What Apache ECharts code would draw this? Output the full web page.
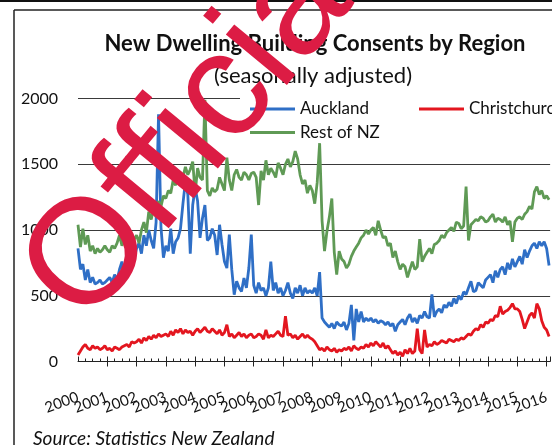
<!DOCTYPE html>
<html>
<head>
<meta charset="utf-8">
<script src="https://cdn.jsdelivr.net/npm/echarts@6/dist/echarts.min.js"></script>
<style>
  html, body { margin: 0; padding: 0; background: #fff; }
  #chart { width: 552px; height: 445px; }
</style>
</head>
<body>
<div id="chart"></div>
<script>
// Monthly new dwelling consents, seasonally adjusted, January 2000 onwards
const startYear = 2000;
const yTicks = [0, 500, 1000, 1500, 2000];

const auckland = [
  860, 700, 740, 620, 700, 600, 640, 590, 600, 620, 590, 600,
  620, 640, 600, 660, 620, 700, 760, 640, 680, 800, 720, 780,
  860, 900, 820, 960, 880, 1000, 920, 860, 1060, 1880, 1020, 790,
  880, 840, 1010, 820, 910, 940, 1010, 1200, 1370, 1270, 820, 1190,
  1320, 1220, 940, 1090, 1190, 920, 940, 1010, 960, 810, 1040, 890,
  760, 710, 965, 700, 508, 610, 560, 533, 635, 560, 711, 965,
  580, 520, 600, 540, 560, 500, 560, 760, 540, 600, 520, 560,
  500, 540, 600, 520, 480, 560, 520, 580, 500, 560, 520, 540,
  520, 560, 500, 680, 330, 300, 280, 260, 290, 250, 300, 280,
  270, 300, 240, 290, 430, 160, 400, 300, 380, 300, 330, 310,
  330, 300, 320, 290, 310, 300, 280, 300, 270, 290, 230, 280,
  300, 320, 280, 330, 360, 300, 330, 290, 350, 330, 380, 340,
  330, 510, 340, 380, 400, 370, 430, 410, 450, 420, 480, 440,
  500, 470, 530, 510, 560, 610, 530, 540, 600, 580, 560, 620,
  640, 660, 600, 690, 640, 700, 720, 660, 750, 700, 780, 720,
  760, 800, 740, 850, 790, 840, 880, 900, 860, 910, 880, 910,
  860, 730
];

const christchurch = [
  50, 80, 110, 130, 100, 90, 120, 100, 110, 90, 100, 120,
  90, 100, 80, 110, 100, 90, 110, 120, 130, 110, 150, 140,
  150, 170, 140, 180, 160, 190, 170, 200, 180, 210, 190, 200,
  210, 190, 230, 200, 240, 220, 250, 210, 240, 220, 230, 200,
  230, 250, 220, 240, 260, 230, 220, 250, 230, 210, 240, 200,
  220, 280, 190, 210, 180, 200, 220, 190, 210, 180, 200, 210,
  180, 190, 210, 200, 170, 240, 180, 200, 190, 210, 230, 200,
  190, 345, 200, 210, 180, 200, 170, 190, 210, 180, 200, 180,
  170, 150, 120, 90, 100, 80, 110, 90, 80, 100, 70, 90,
  80, 100, 90, 110, 80, 120, 100, 90, 110, 100, 130, 110,
  140, 120, 150, 130, 110, 140, 100, 120, 90, 60, 80, 50,
  70, 40, 90, 60, 100, 60, 80, 250, 90, 60, 240, 110,
  130, 120, 150, 130, 140, 160, 150, 140, 170, 160, 150, 170,
  160, 180, 170, 190, 210, 200, 230, 250, 240, 280, 260, 300,
  290, 320, 310, 350, 340, 420, 360, 380, 390, 410, 440, 400,
  400, 380, 320, 250, 300, 350, 370, 330, 440, 400, 310, 260,
  240, 190
];

const restOfNZ = [
  1040, 870, 1010, 890, 960, 840, 880, 820, 860, 830, 850, 880,
  850, 830, 880, 860, 900, 960, 880, 940, 920, 900, 960, 930,
  960, 900, 1000, 1060, 980, 1140, 1080, 1160, 1100, 1220, 1180, 1260,
  1240, 1300, 1280, 1380, 1340, 1450, 1350, 1400, 1480, 1420, 1460, 1520,
  1280, 1470, 1400, 1380, 1990, 1300, 1260, 1320, 1290, 1310, 1400, 1350,
  1300, 1550, 1380, 1300, 1420, 1460, 1400, 1380, 1440, 1420, 1380, 1430,
  1440, 1400, 1190, 1450, 1380, 1530, 1420, 1470, 1440, 1400, 1510, 1470,
  1420, 1500, 1540, 1480, 1520, 1600, 1540, 1420, 1350, 1380, 1280, 1340,
  1300, 1200, 1360, 1660, 1070, 840, 990, 1100, 1240, 830, 660, 840,
  780, 760, 710, 740, 800, 840, 870, 900, 940, 960, 1000, 970,
  1000, 1020, 960, 1070, 1000, 940, 950, 880, 900, 790, 840, 760,
  700, 740, 720, 640, 700, 760, 700, 720, 930, 760, 800, 830,
  860, 820, 890, 900, 920, 960, 940, 980, 1000, 1020, 990, 1060,
  1050, 1010, 1030, 1330, 920, 1040, 1060, 1080, 1070, 1100, 1090, 1060,
  1070, 1100, 1120, 1060, 1090, 1080, 1060, 1100, 1040, 1070, 910, 1060,
  1090, 1100, 1080, 1120, 1140, 1180, 1160, 1290, 1330, 1270, 1300, 1240,
  1260, 1230
];

// pair each monthly value with its decimal-year position
const toSeries = arr => arr.map((v, i) => [startYear + i / 12, v]);

const FONT = 'Lato, "Open Sans", sans-serif';
const COLORS = { auckland: '#2f6fc6', christchurch: '#e3161f', rest: '#5f9a55' };
const LAST_LABEL_YEAR = 2016;

const chart = echarts.init(document.getElementById('chart'), null, { renderer: 'canvas' });

const xCommon = {
  type: 'value',
  min: 2000,
  max: 2016.12,
  interval: 1,
  splitLine: { show: false }
};

const yearLabel = {
  rotate: 20,
  margin: 35,
  color: '#111',
  fontFamily: FONT,
  fontSize: 15
};

const legendText = { color: '#111', fontFamily: FONT, fontSize: 17 };
const legendBase = { padding: 0, icon: 'rect', itemWidth: 45, itemHeight: 3, textStyle: legendText };

chart.setOption({
  animation: false,
  backgroundColor: '#fff',
  grid: { left: 78, right: 0, top: 98.5, bottom: 83.5 },
  xAxis: [
    // main axis: line, outward ticks, year labels from 2001
    Object.assign({}, xCommon, {
      axisLine: { lineStyle: { color: '#222', width: 1 } },
      axisTick: { show: true, length: 5, lineStyle: { color: '#222' } },
      axisLabel: Object.assign({}, yearLabel, {
        showMinLabel: false,
        showMaxLabel: false,
        formatter: v => (Number.isInteger(v) && v <= LAST_LABEL_YEAR) ? String(v) : ''
      })
    }),
    // overlay axis: inward ticks, quarterly minor ticks, and the first year label
    Object.assign({}, xCommon, {
      position: 'bottom',
      axisLine: { show: false },
      axisTick: { show: true, inside: true, length: 5, lineStyle: { color: '#222' } },
      minorTick: { show: true, splitNumber: 4, length: 3, lineStyle: { color: '#222' } },
      axisLabel: Object.assign({}, yearLabel, {
        showMinLabel: true,
        showMaxLabel: false,
        formatter: v => (v === 2000 ? String(v) : '')
      })
    })
  ],
  yAxis: {
    type: 'value',
    min: yTicks[0],
    max: yTicks[yTicks.length - 1],
    interval: 500,
    axisLine: { show: false },
    axisTick: { show: false },
    splitLine: { lineStyle: { color: '#3a3a3a', width: 1 } },
    axisLabel: { margin: 20, color: '#111', fontFamily: FONT, fontSize: 16, formatter: v => String(v) }
  },
  legend: [
    Object.assign({ data: ['Auckland'], left: 250, top: 100.5 }, legendBase),
    Object.assign({ data: ['Christchurch'], left: 419, top: 100.5 }, legendBase),
    Object.assign({ data: ['Rest of NZ'], left: 250, top: 124 }, legendBase)
  ],
  series: [
    { name: 'Auckland', type: 'line', data: toSeries(auckland), showSymbol: false, symbol: 'none',
      lineStyle: { color: COLORS.auckland, width: 2.8 }, itemStyle: { color: COLORS.auckland } },
    { name: 'Christchurch', type: 'line', data: toSeries(christchurch), showSymbol: false, symbol: 'none',
      lineStyle: { color: COLORS.christchurch, width: 2.8 }, itemStyle: { color: COLORS.christchurch } },
    { name: 'Rest of NZ', type: 'line', data: toSeries(restOfNZ), showSymbol: false, symbol: 'none',
      lineStyle: { color: COLORS.rest, width: 2.8 }, itemStyle: { color: COLORS.rest } }
  ],
  graphic: [
    // outer frame
    { type: 'line', z: 50, shape: { x1: 0, y1: 1, x2: 552, y2: 1 }, style: { stroke: '#111', lineWidth: 2 } },
    { type: 'line', z: 50, shape: { x1: 14, y1: 10, x2: 552, y2: 10 }, style: { stroke: '#222', lineWidth: 1.5 } },
    { type: 'line', z: 50, shape: { x1: 14, y1: 10, x2: 14, y2: 445 }, style: { stroke: '#222', lineWidth: 1.5 } },
    // legend backdrop over the top gridline
    { type: 'rect', z: 1, shape: { x: 240, y: 92, width: 312, height: 12 }, style: { fill: '#fff' } },
    // titles
    { type: 'text', z: 50, x: 315, y: 44,
      style: { text: 'New Dwelling Building Consents by Region', fill: '#111', align: 'center', verticalAlign: 'middle',
               font: 'bold 22px ' + FONT } },
    { type: 'text', z: 50, x: 313, y: 76,
      style: { text: '(seasonally adjusted)', fill: '#111', align: 'center', verticalAlign: 'middle',
               font: '22px ' + FONT } },
    { type: 'text', z: 50, x: 33, y: 429,
      style: { text: 'Source: Statistics New Zealand', fill: '#111', align: 'left', verticalAlign: 'top',
               font: 'italic 19px ' + FONT } },
    // stamp across the upper left
    { type: 'text', z: 100, x: 54, y: 302, rotation: 0.88,
      style: { text: 'Official', fill: '#dc1c44', align: 'left', verticalAlign: 'middle',
               font: '150px "Liberation Sans", Arial, sans-serif' } }
  ]
});
</script>
</body>
</html>
